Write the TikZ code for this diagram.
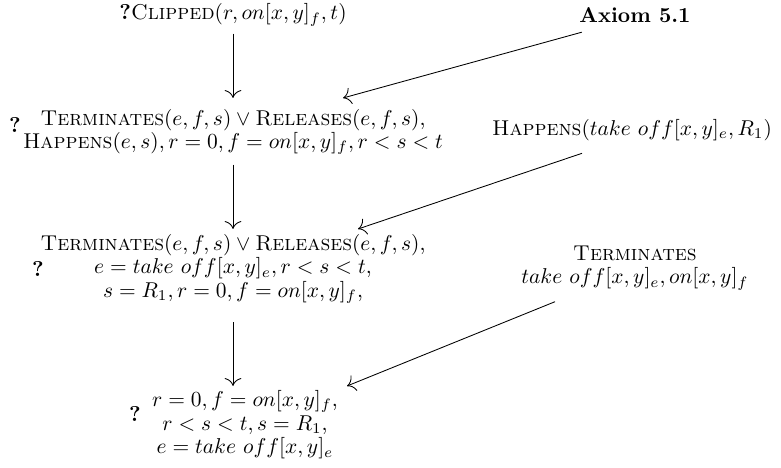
\documentclass[tikz,border=0pt]{standalone}
\usepackage{amsmath}
\usetikzlibrary{arrows.meta, calc}

\begin{document}
\begin{tikzpicture}[x=0.016393cm, y=-0.016393cm, >={To[length=1.3mm]}, every node/.style={align=center, font=\fontsize{10}{11}\selectfont}, qmark/.style={font=\bfseries, inner sep=0pt}]
  \useasboundingbox (0,0) rectangle (781,468);
  \node (clipped) at (233,15) {\textbf{?}\textsc{Clipped}$(r, on[x,y]_f, t)$};
  \node (goal1) at (233,132) {$\textsc{Terminates}(e,f,s) \vee \textsc{Releases}(e,f,s)$,\\ $\textsc{Happens}(e,s), r=0, f=on[x,y]_f, r<s<t$};
  \node[qmark] (q1) at (15,125) {?};
  \node (goal2) at (233,269) {$\textsc{Terminates}(e,f,s) \vee \textsc{Releases}(e,f,s)$,\\ $e=take\ off[x,y]_e, r<s<t$,\\ $s=R_1, r=0, f=on[x,y]_f$,};
  \node[qmark] (q2) at (38,269) {?};
  \node (goal3) at (245,425) {$r=0, f=on[x,y]_f$,\\ $r<s<t, s=R_1$,\\ $e=take\ off[x,y]_e$};
  \node[qmark] (q3) at (135,414) {?};
  \node[font=\bfseries] (axiom) at (635,15) {Axiom 5.1};
  \node (happens) at (632,130) {$\textsc{Happens}(take\ off[x,y]_e, R_1)$};
  \node (terminates) at (635,268) {\textsc{Terminates}\\ $take\ off[x,y]_e, on[x,y]_f$};
  \coordinate (in1) at (343,98);
  \coordinate (in2) at (358,229);
  \coordinate (in3) at (347,386);
  \draw[->] (clipped.south) -- (clipped.south |- in1);
  \draw[->, shorten <=1pt] (goal1.south) -- (goal1.south |- in2);
  \draw[->, shorten <=5pt] (goal2.south) -- (goal2.south |- in3);
  \draw[->] ($(axiom.south west)+(10,2)$) -- (in1);
  \draw[->] ($(happens.south)+(-50,5)$) -- (in2);
  \draw[->] ($(terminates.south)+(-80,4)$) -- (in3);
\end{tikzpicture}
\end{document}
